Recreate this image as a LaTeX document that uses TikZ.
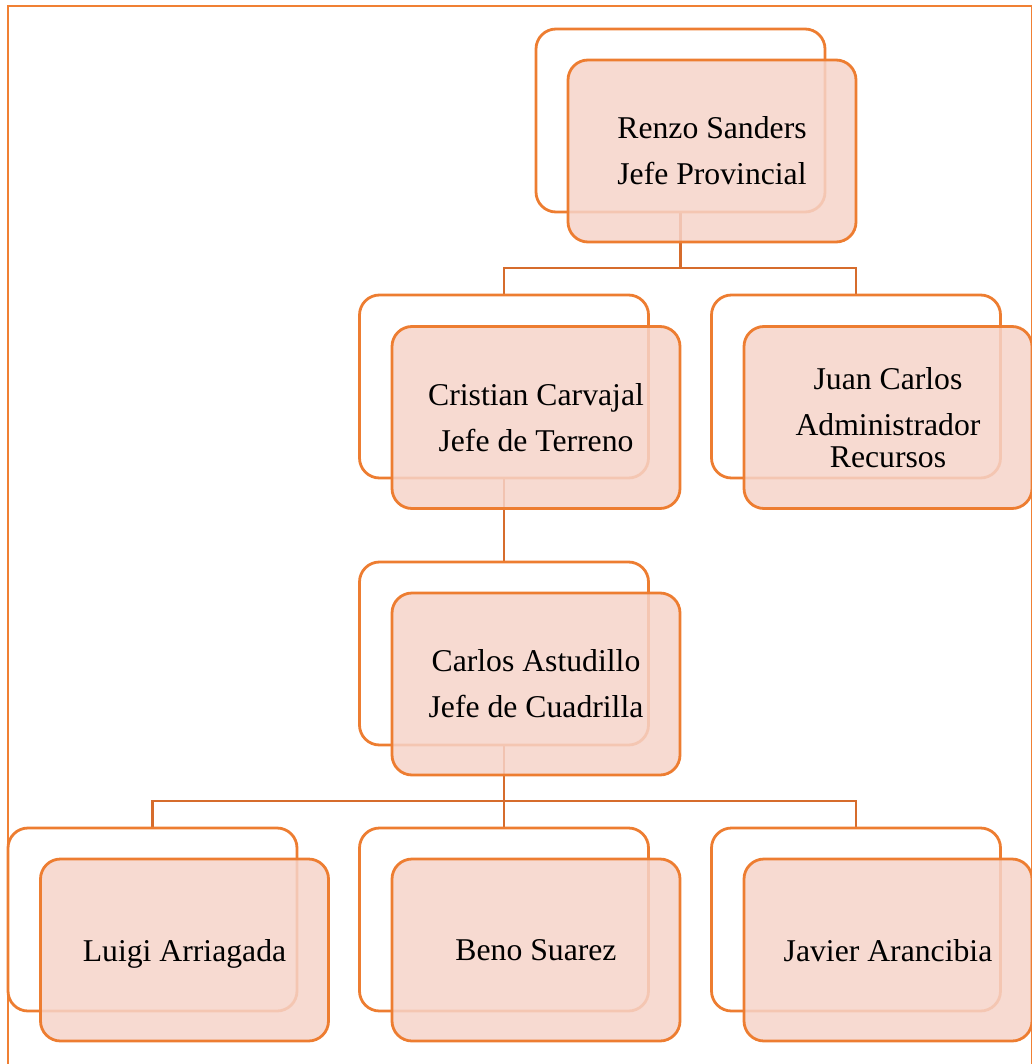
\documentclass[tikz,border=0pt]{standalone}
\usepackage{fontspec}
\setmainfont{Liberation Serif}
\usetikzlibrary{backgrounds}
\definecolor{boxline}{RGB}{237,125,49}
\definecolor{connline}{RGB}{214,108,44}
\definecolor{boxfill}{RGB}{246,211,201}
\definecolor{framecol}{RGB}{240,128,52}
\tikzset{
  backbox/.style={draw=boxline, line width=2.8pt, rounded corners=20pt,
    minimum width=289pt, minimum height=183pt, inner sep=0pt, outer sep=0pt},
  frontbox/.style={draw=boxline, line width=2.8pt, rounded corners=20pt,
    fill=boxfill, fill opacity=0.85, text opacity=1, draw opacity=1,
    minimum width=288pt, minimum height=182pt, inner sep=0pt, outer sep=0pt,
    align=center, font=\fontsize{31.7}{46}\selectfont},
  oneline/.style={text depth=0pt},
  conn/.style={draw=connline, line width=2.8pt},
  frameline/.style={draw=framecol, line width=2.3pt}
}
\begin{document}
\begin{tikzpicture}[x=1pt,y=-1pt]
\useasboundingbox (0,0) rectangle (1031,1064);
% back boxes
\node[backbox] (renzoB)   at (680.5,120.5) {};
\node[backbox] (cristianB) at (504,386.5) {};
\node[backbox] (juanB)     at (856,386.5) {};
\node[backbox] (carlosB)   at (504,653.5) {};
\node[backbox] (luigiB)    at (152.5,919.5) {};
\node[backbox] (benoB)     at (504,919.5) {};
\node[backbox] (javierB)   at (856,919.5) {};
% front boxes
\node[frontbox] (renzo)    at (712,151) {Renzo Sanders\\Jefe Provincial};
\node[frontbox] (cristian) at (536,417.5) {Cristian Carvajal\\Jefe de Terreno};
\node[frontbox, font=\fontsize{31.7}{32}\selectfont] (juan) at (888,417.5) {Juan Carlos\\[14pt]Administrador\\Recursos};
\node[frontbox] (carlos)   at (536,684) {Carlos Astudillo\\Jefe de Cuadrilla};
\node[frontbox, oneline] (luigi)    at (184.5,950) {Luigi Arriagada};
\node[frontbox, oneline] (beno)     at (536,950) {Beno Suarez};
\node[frontbox, oneline] (javier)   at (888,950) {Javier Arancibia};
\begin{scope}[on background layer]
  \draw[frameline] (8.3,1070) -- (8.3,5.7) -- (1032.2,5.7) -- (1032.2,1070);
  \draw[conn] (renzoB.south) -- ++(0,56) -| (cristianB.north);
  \draw[conn] (renzoB.south) -- ++(0,56) -| (juanB.north);
  \draw[conn] (cristianB.south) -- (carlosB.north);
  \draw[conn] (carlosB.south) -- ++(0,56) -| (luigiB.north);
  \draw[conn] (carlosB.south) -- ++(0,56) -| (benoB.north);
  \draw[conn] (carlosB.south) -- ++(0,56) -| (javierB.north);
\end{scope}
\end{tikzpicture}
\end{document}
